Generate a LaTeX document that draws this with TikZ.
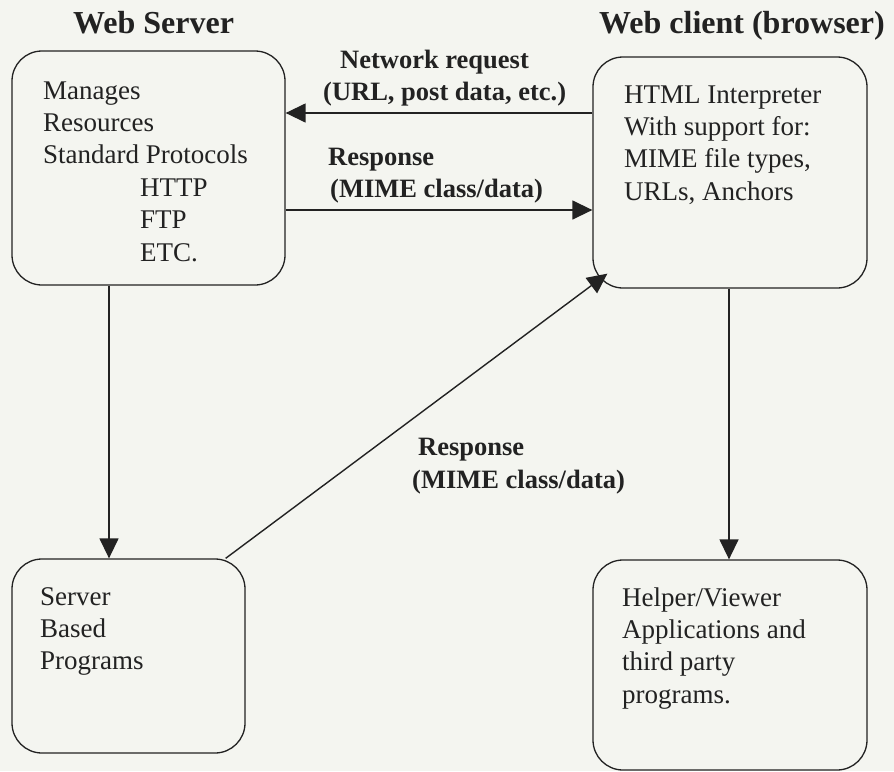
\documentclass[tikz,border=0pt]{standalone}
\usepackage{fontspec}
\setmainfont{Liberation Serif}
\usetikzlibrary{arrows.meta,calc}
\definecolor{bg}{RGB}{244,245,240}
\definecolor{ink}{RGB}{34,34,34}
\newcommand{\bodyfont}{\fontsize{27}{32.4}\selectfont}
\newcommand{\labfont}{\fontsize{26.5}{32.5}\selectfont\bfseries}
\newcommand{\ttlfont}{\fontsize{32}{38}\selectfont\bfseries}
\tikzset{
  box/.style={draw=ink, line width=1.3pt, rounded corners=30pt, inner sep=0pt},
  txt/.style={anchor=base west, inner sep=0pt, text=ink, font=\bodyfont},
  lab/.style={anchor=base west, inner sep=0pt, text=ink, font=\labfont},
  ttl/.style={anchor=base west, inner sep=0pt, text=ink, font=\ttlfont},
  arr/.style={draw=ink, line width=1.4pt, -{Triangle[length=20pt,width=19pt]}}
}
\begin{document}
\begin{tikzpicture}[x=1pt,y=-1pt]
\fill[bg] (0,0) rectangle (894,771);
\useasboundingbox (0,0) rectangle (894,771);
% boxes
\node[box, minimum width=273pt, minimum height=234pt] (server) at (148.5,168) {};
\node[box, minimum width=274pt, minimum height=231pt] (client) at (730,172.5) {};
\node[box, minimum width=233pt, minimum height=194pt] (sbp) at (128.5,656) {};
\node[box, minimum width=274pt, minimum height=210pt] (helper) at (730,665) {};
% titles
\node[ttl] (t1) at (73,33) {Web Server};
\node[ttl] (t2) at (599,33) {Web client (browser)};
% box texts
\node[txt] (stext) at (43,99) {\begin{tabular}[t]{@{}l@{}}Manages\\Resources\\Standard Protocols\\\hspace*{97pt}HTTP\\\hspace*{97pt}FTP\\\hspace*{97pt}ETC.\end{tabular}};
\node[txt] (ctext) at (624,103) {\begin{tabular}[t]{@{}l@{}}HTML Interpreter\\With support for:\\MIME file types,\\URLs, Anchors\end{tabular}};
\node[txt] (sbptext) at (40,605) {\begin{tabular}[t]{@{}l@{}}Server\\Based\\Programs\end{tabular}};
\node[txt] (htext) at (622,606) {\begin{tabular}[t]{@{}l@{}}Helper/Viewer\\Applications and\\third party\\programs.\end{tabular}};
% labels
\node[lab] (l1a) at (340,68) {Network request};
\node[lab] (l1b) at (323,100) {(URL, post data, etc.)};
\node[lab] (l2a) at (328,165) {Response};
\node[lab] (l2b) at (330,197) {(MIME class/data)};
\node[lab] (l3a) at (418,455) {Response};
\node[lab] (l3b) at (412,488) {(MIME class/data)};
% connectors
\draw[arr] (client.west |- 0,113) -- (server.east |- 0,113);
\draw[arr] (server.east |- 0,210) -- (client.west |- 0,210);
\draw[arr] (server.south -| 109,0) -- (sbp.north -| 109,0);
\draw[arr] (client.south -| 729,0) -- (helper.north -| 729,0);
\draw[arr] ($(sbp.north east)+(-20,0)$) -- ($(client.south west)+(15,-15)$);
\end{tikzpicture}
\end{document}
